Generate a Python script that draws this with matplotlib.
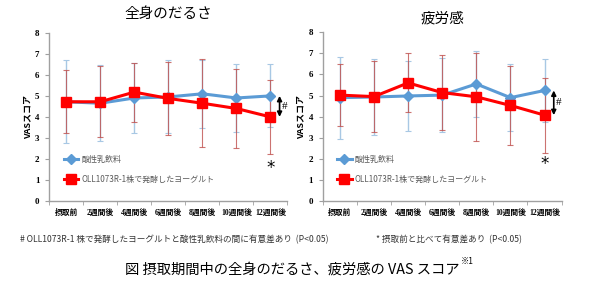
import numpy as np
import matplotlib
matplotlib.use('Agg')
import matplotlib.pyplot as plt
from matplotlib.lines import Line2D

plt.rcParams['font.family'] = ['Noto Sans CJK JP', 'DejaVu Sans']

weeks = ['摂取前', '2週間後', '4週間後', '6週間後', '8週間後', '10週間後', '12週間後']

# 全身のだるさ
dar_blue = [4.72, 4.65, 4.90, 4.95, 5.10, 4.90, 5.00]
dar_blue_sd = [1.98, 1.80, 1.66, 1.74, 1.62, 1.60, 1.50]
dar_red = [4.72, 4.72, 5.18, 4.88, 4.65, 4.40, 4.00]
dar_red_sd = [1.49, 1.69, 1.40, 1.74, 2.10, 1.88, 1.78]

# 疲労感
fat_blue = [4.90, 4.93, 4.98, 5.02, 5.55, 4.90, 5.24]
fat_blue_sd = [1.95, 1.80, 1.65, 1.74, 1.57, 1.60, 1.48]
fat_red = [5.02, 4.95, 5.60, 5.14, 4.94, 4.53, 4.07]
fat_red_sd = [1.46, 1.69, 1.40, 1.76, 2.10, 1.86, 1.78]

titles = ['全身のだるさ', '疲労感']
title_pad = [11, 7]
star_y = [1.57, 1.75]

blue = '#5b9bd5'
red = '#ff0000'
blue_err = '#a8c8e4'
red_err = '#c0504d'

fig = plt.figure(figsize=(6.0, 2.81), dpi=100)
axes = [fig.add_axes([0.082, 0.285, 0.397, 0.598]),
        fig.add_axes([0.538, 0.285, 0.398, 0.600])]

tickfont = ['Liberation Serif', 'Noto Sans CJK JP']
x = np.arange(len(weeks))

for ax, title, tp, b, bsd, r, rsd, sy in zip(axes, titles, title_pad,
                                            [dar_blue, fat_blue], [dar_blue_sd, fat_blue_sd],
                                            [dar_red, fat_red], [dar_red_sd, fat_red_sd], star_y):
    ax.errorbar(x, b, yerr=bsd, fmt='none', ecolor=blue_err, elinewidth=1,
                capsize=2, capthick=0.8, zorder=1)
    ax.errorbar(x, r, yerr=rsd, fmt='none', ecolor=red_err, elinewidth=0.8,
                capsize=2, capthick=0.8, alpha=0.8, zorder=2)
    ax.plot(x, b, color=blue, lw=2.2, marker='D', ms=5.5, zorder=3)
    ax.plot(x, r, color=red, lw=2.2, marker='s', ms=7, zorder=4)

    ax.set_xlim(-0.5, 6.5)
    ax.set_ylim(0, 8)
    ax.set_yticks(range(9))
    ax.set_yticklabels([str(v) for v in range(9)], fontsize=6.5, fontweight='bold',
                       family=tickfont)
    ax.set_xticks(x)
    ax.set_xticklabels(weeks, fontsize=5.6, fontweight='bold', family=tickfont)
    ax.set_xticks(np.arange(-0.5, 7, 1), minor=True)
    ax.tick_params(axis='x', which='major', length=0, pad=6)
    ax.tick_params(axis='x', which='minor', length=3, color='#a0a0a0', direction='out')
    ax.tick_params(axis='y', length=3, color='#a0a0a0', pad=4)
    for s in ['top', 'right']:
        ax.spines[s].set_visible(False)
    for s in ['left', 'bottom']:
        ax.spines[s].set_color('#a0a0a0')
        ax.spines[s].set_linewidth(1)

    ax.set_ylabel('VASスコア', fontsize=6.5, fontweight='bold', labelpad=2)
    ax.set_title(title, fontsize=10.5, pad=tp)

    # significance markers
    ax.annotate('', xy=(6.27, b[6]), xytext=(6.27, r[6]),
                arrowprops=dict(arrowstyle='<|-|>', color='black', lw=1.2,
                                mutation_scale=7, shrinkA=0, shrinkB=0),
                annotation_clip=False)
    ax.text(6.42, (b[6] + r[6]) / 2, '#', fontsize=8, ha='center', va='center',
            family=tickfont, clip_on=False)
    ax.text(6, sy, '*', fontsize=12, ha='center', va='center', family=['DejaVu Sans'])

    handles = [Line2D([], [], color=blue, lw=2.2, marker='D', ms=5.5),
               Line2D([], [], color=red, lw=2.2, marker='s', ms=7)]
    leg = ax.legend(handles, ['酸性乳飲料', 'OLL1073R-1株で発酵したヨーグルト'],
                    loc='lower left', bbox_to_anchor=(0.03, 0.06), frameon=False,
                    fontsize=5.8, handlelength=1.8, labelspacing=1.3, handletextpad=0.4)
    for t in leg.get_texts():
        t.set_color('#595959')

fig.text(0.033, 0.146, '# OLL1073R-1 株で発酵したヨーグルトと酸性乳飲料の間に有意差あり  (P<0.05)',
         fontsize=6.2, va='center', color='#333333')
fig.text(0.627, 0.146, '* 摂取前と比べて有意差あり  (P<0.05)',
         fontsize=6.2, va='center', color='#333333')
cap = fig.text(0.208, 0.04, '図 摂取期間中の全身のだるさ、疲労感の VAS スコア',
               fontsize=10.3, ha='left', va='center')

# place the superscript right after the caption
fig.canvas.draw()
bb = cap.get_window_extent().transformed(fig.transFigure.inverted())
fig.text(bb.x1 + 0.002, 0.068, '※1', fontsize=6, ha='left', va='center')

fig.savefig('out.png', dpi=100)
